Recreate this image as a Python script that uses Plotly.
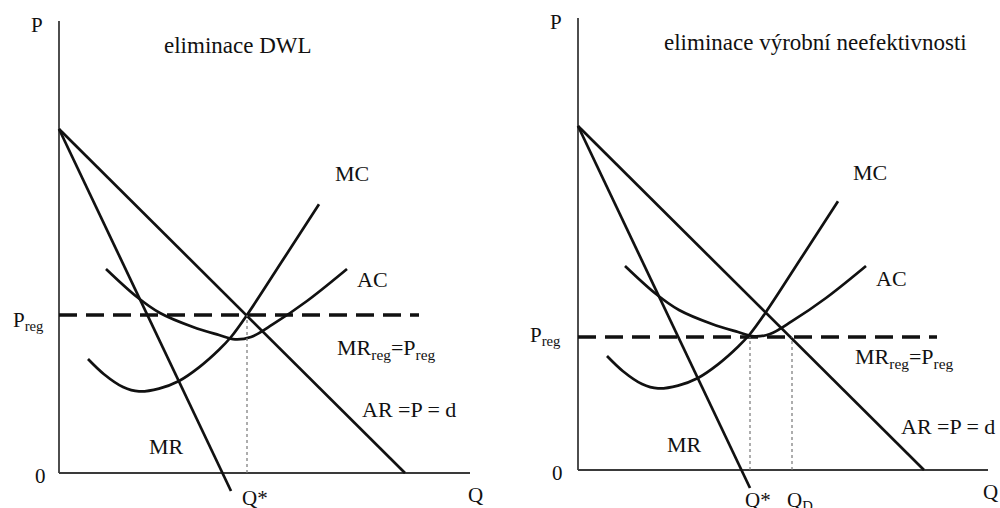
import plotly.graph_objects as go

# --- shared cost and demand schedules (Q, P) ---
demand_q = [0.0, 8.65]
demand_p = [8.6, 0.0]

mr_q = [0.0, 4.3]
mr_p = [8.6, -0.45]

mc_q = [0.725, 1.125, 1.6, 2.0, 2.5, 3.0, 3.5, 4.0, 4.3, 4.7, 5.6, 6.5]
mc_p = [2.85, 2.47, 2.15, 2.04, 2.11, 2.3, 2.64, 3.08, 3.40, 3.95, 5.33, 6.72]

ac_q = [1.175, 1.95, 2.525, 3.35, 4.0, 4.4, 4.8, 5.35, 6.2, 7.2]
ac_p = [5.1, 4.4, 4.0, 3.65, 3.45, 3.34, 3.40, 3.72, 4.30, 5.1]

# --- regulated outcomes per panel ---
p_reg_dwl = 3.95          # price cap where MC meets demand
q_star_dwl = 4.7
p_reg_eff = 3.325         # price cap at minimum AC
q_star_eff = 4.3
q_d_eff = 5.35
preg_len = [9.0, 8.975]

axis_len_q = [10.275, 10.25]
axis_len_p = [11.3, 11.3]

panel_titles = ["eliminace DWL", "eliminace výrobní neefektivnosti"]

FONT = "Liberation Serif"
INK = "#111111"
AXIS = "#3a3a3a"

fig = go.Figure()


def line(xs, ys, ax, width=2.7, color=INK, dash=None):
    fig.add_trace(go.Scatter(
        x=xs, y=ys, mode="lines", xaxis=ax[0], yaxis=ax[1],
        line=dict(color=color, width=width, dash=dash),
        showlegend=False, hoverinfo="skip"))


def curve(xs, ys, ax):
    fig.add_trace(go.Scatter(
        x=xs, y=ys, mode="lines", xaxis=ax[0], yaxis=ax[1],
        line=dict(color=INK, width=2.7, shape="spline", smoothing=1.0),
        showlegend=False, hoverinfo="skip"))


panels = [("x", "y"), ("x2", "y2")]
p_regs = [p_reg_dwl, p_reg_eff]
drops = [[q_star_dwl], [q_star_eff, q_d_eff]]

for i, ax in enumerate(panels):
    # axes
    line([0, 0], [0, axis_len_p[i]], ax, width=1.8, color=AXIS)
    line([0, axis_len_q[i]], [0, 0], ax, width=1.8, color=AXIS)
    # demand, marginal revenue, costs
    line(demand_q, demand_p, ax)
    line(mr_q, mr_p, ax)
    curve(mc_q, mc_p, ax)
    curve(ac_q, ac_p, ax)
    # regulated price
    line([0, preg_len[i]], [p_regs[i], p_regs[i]], ax, width=3.6,
         dash="18px,9px")
    # quantity drop lines
    for q in drops[i]:
        line([q, q], [0, p_regs[i]], ax, width=1.2, color="#777777",
             dash="dot")

# axis frames: 40 px per unit, origins at (59,473) and (578,470)
fig.update_layout(
    width=1000, height=508,
    margin=dict(l=0, r=0, t=0, b=0),
    paper_bgcolor="white", plot_bgcolor="white",
    xaxis=dict(domain=[0, 0.5], range=[-1.475, 11.025], visible=False),
    yaxis=dict(domain=[0, 1], range=[-0.875, 11.825], visible=False),
    xaxis2=dict(domain=[0.5, 1], range=[-1.95, 10.55], visible=False),
    yaxis2=dict(domain=[0, 1], range=[-0.95, 11.75], visible=False,
                anchor="x2"),
)


def label(text, x, y, ax, size=22, xanchor="center", yanchor="middle"):
    fig.add_annotation(text=text, x=x, y=y, xref=ax[0], yref=ax[1],
                       showarrow=False, xanchor=xanchor, yanchor=yanchor,
                       font=dict(family=FONT, size=size, color=INK))


# left panel labels
L = panels[0]
label(panel_titles[0], 4.475, 10.7, L, size=23)
label("P", -0.55, 11.2, L, size=21)
label("0", -0.475, -0.075, L, size=21)
label("Q", 10.4, -0.55, L, size=21)
label("Q*", 4.9, -0.27, L, size=21, yanchor="top")
label("MR", 2.675, 0.675, L)
label("MC", 7.325, 7.5, L)
label("AC", 7.825, 4.85, L)
label("MR<sub>reg</sub>=P<sub>reg</sub>", 8.175, 3.1, L)
label("AR =P = d", 8.75, 1.6, L)
label("P<sub>reg</sub>", -0.775, 3.8, L, size=21)

# right panel labels
R = panels[1]
label(panel_titles[1], 5.925, 10.7, R, size=23)
label("P", -0.55, 11.2, R, size=21)
label("0", -0.525, -0.075, R, size=21)
label("Q", 10.3, -0.55, R, size=21)
label("Q*", 4.5, -0.4, R, size=21, yanchor="top")
label("Q<sub>D</sub>", 5.55, -0.4, R, size=21, yanchor="top")
label("MR", 2.65, 0.65, R)
label("MC", 7.3, 7.45, R)
label("AC", 7.825, 4.8, R)
label("MR<sub>reg</sub>=P<sub>reg</sub>", 8.15, 2.8, R)
label("AR =P = d", 9.25, 1.1, R)
label("P<sub>reg</sub>", -0.825, 3.35, R, size=21)

fig.write_html("out.html")
